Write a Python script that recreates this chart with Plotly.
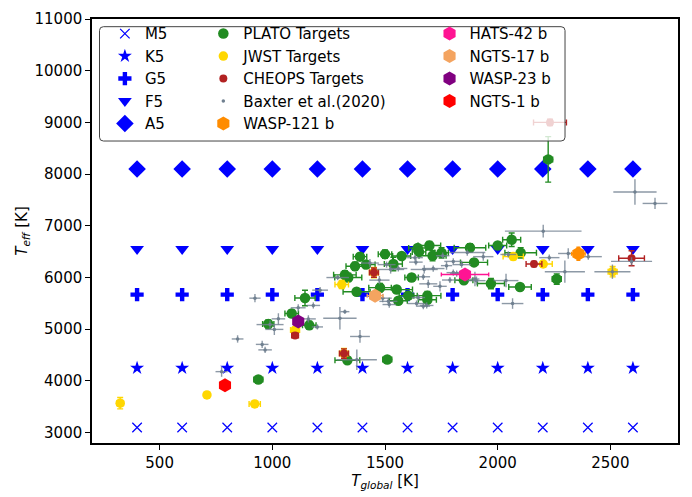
import plotly.graph_objects as go

# ---- stellar spectral-type reference grid ----
grid_tglobal = [400, 600, 800, 1000, 1200, 1400, 1600, 1800, 2000, 2200, 2400, 2600]
stype_names = ["M5", "K5", "G5", "F5", "A5"]
stype_teff = [3100, 4250, 5670, 6550, 8100]

# ---- PLATO targets ----
plato_tglobal = [938, 982, 1086, 1164, 1145, 1333, 1510, 1322, 1337, 1367,
                 1389, 1416, 1500, 1537, 1574, 1618, 1645, 1651, 1697, 1711,
                 1751, 1877, 1374, 1478, 1552, 1559, 1603, 1688, 1688, 1895,
                 1850, 1970, 2000, 2062, 2102, 2099, 2262, 2224]
plato_teff = [4027, 5100, 5305, 5077, 5605, 4400, 4416, 6052, 6002, 6219,
              6404, 6250, 6452, 6262, 6417, 6002, 6570, 6496, 6619, 6422,
              6478, 6575, 5725, 5804, 5767, 5552, 5650, 5650, 5570, 6293,
              5947, 5884, 6619, 6730, 6478, 5817, 5971, 8285]
plato_tglobal_err = [20, 25, 30, 30, 45, 55, 20, 50, 60, 40,
                     30, 40, 30, 40, 40, 30, 40, 30, 50, 60,
                     30, 70, 60, 50, 70, 40, 40, 60, 40, 60,
                     40, 60, 40, 40, 70, 50, 20, 20]
plato_teff_err = [60, 80, 70, 80, 150, 60, 50, 80, 80, 80,
                  60, 60, 80, 130, 60, 60, 60, 60, 80, 100,
                  100, 80, 60, 80, 60, 60, 60, 80, 60, 60,
                  60, 100, 60, 130, 100, 60, 100, 440]

# ---- JWST targets ----
jwst_tglobal = [325, 710, 922, 1101, 1308, 1318, 1451, 2069, 2202, 2510]
jwst_teff = [3570, 3730, 3555, 4985, 5865, 4530, 6095, 6405, 6262, 6113]
jwst_tglobal_err = [15, 10, 25, 20, 30, 20, 20, 45, 40, 20]
jwst_teff_err = [110, 50, 50, 50, 80, 100, 100, 60, 50, 100]

# ---- CHEOPS targets ----
cheops_tglobal = [1101, 1318, 1451, 2161, 2594, 2232]
cheops_teff = [4879, 4530, 6095, 6262, 6372, 9000]
cheops_tglobal_err = [15, 20, 20, 35, 57, 73]
cheops_teff_err = [40, 90, 90, 50, 145, 60]

# ---- Baxter et al. (2020) sample ----
baxter_tglobal = [775, 846, 923, 955, 968, 990, 1009, 1027, 1115, 1160,
                  1182, 1200, 1212, 1300, 1322, 1389, 1375, 1290, 1433, 1475,
                  1507, 1525, 1559, 1490, 1515, 1519, 1633, 1637, 1674, 1714,
                  1692, 1670, 1744, 1773, 1756, 1803, 1803, 1818, 1840, 1788,
                  1648, 1640, 1670, 1685, 1865, 1936, 1906, 1899, 2037, 2066,
                  2047, 2202, 2229, 2313, 2298, 2402, 2594, 2509, 2609, 2698]
baxter_teff = [4180, 4812, 5601, 4707, 4601, 5090, 4997, 5201, 5415, 5200,
               5460, 5045, 5756, 5212, 5340, 4860, 4410, 6000, 6280, 5950,
               6250, 6156, 6175, 5601, 5539, 5478, 6385, 6298, 6156, 6174,
               5878, 6015, 5830, 6230, 6422, 6312, 6095, 6076, 6250, 5952,
               5613, 5497, 5447, 5460, 6483, 6404, 5940, 5971, 5941, 5497,
               6446, 6897, 6385, 6465, 6113, 6404, 6312, 6113, 7655, 7433]
baxter_tglobal_err = [27, 26, 25, 28, 30, 60, 40, 30, 33, 33,
                      30, 25, 35, 74, 20, 44, 89, 50, 40, 45,
                      40, 60, 40, 40, 40, 30, 35, 30, 60, 50,
                      40, 30, 30, 25, 30, 40, 30, 30, 40, 35,
                      30, 40, 30, 30, 80, 45, 40, 20, 55, 48,
                      35, 170, 45, 45, 89, 60, 91, 80, 96, 55]
baxter_teff_err = [100, 71, 80, 70, 60, 80, 108, 108, 70, 70,
                   60, 50, 60, 216, 40, 123, 200, 50, 80, 80,
                   60, 80, 60, 80, 60, 60, 60, 60, 80, 60,
                   80, 60, 100, 80, 60, 60, 60, 60, 60, 60,
                   60, 60, 60, 60, 60, 80, 80, 139, 130, 102,
                   60, 123, 60, 100, 216, 60, 80, 139, 247, 108]

# ---- individual planets ----
planet_names = ["WASP-121 b", "HATS-42 b", "NGTS-17 b", "WASP-23 b", "NGTS-1 b"]
planet_tglobal = [2358, 1855, 1456, 1115, 790]
planet_teff = [6460, 6060, 5650, 5150, 3916]
planet_tglobal_err = [30, 105, 35, 20, 20]
planet_teff_err = [125, 50, 60, 50, 50]

# ---- styling ----
BLUE = "#0000ff"
FONT = "DejaVu Sans"
stype_style = {
    "M5": dict(symbol="x-thin", size=9.5, line=dict(width=1.2, color=BLUE)),
    "K5": dict(symbol="star", size=10.5, line=dict(width=0)),
    "G5": dict(symbol="cross", size=11, line=dict(width=0)),
    "F5": dict(symbol="triangle-down", size=12, line=dict(width=0)),
    "A5": dict(symbol="diamond", size=13.5, line=dict(width=0)),
}
planet_colors = ["#ff8c00", "#ff1493", "#f4a460", "#800080", "#ff0000"]
planet_legend = ["legend2", "legend3", "legend3", "legend3", "legend3"]

fig = go.Figure()

for name, teff in zip(stype_names, stype_teff):
    fig.add_trace(go.Scatter(
        x=grid_tglobal, y=[teff] * len(grid_tglobal), mode="markers", name=name,
        marker=dict(color=BLUE, **stype_style[name]), legend="legend"))


def err_series(name, x, y, ex, ey, color, size, legend, cap=3, bar_color=None,
               symbol="circle"):
    bc = bar_color or color
    return go.Scatter(
        x=x, y=y, mode="markers", name=name, legend=legend,
        marker=dict(color=color, size=size, symbol=symbol, line=dict(width=0)),
        error_x=dict(type="data", array=ex, visible=True, color=bc,
                     thickness=1.4, width=cap),
        error_y=dict(type="data", array=ey, visible=True, color=bc,
                     thickness=1.4, width=cap))


fig.add_trace(err_series("PLATO Targets", plato_tglobal, plato_teff,
                         plato_tglobal_err, plato_teff_err, "#228b22", 10.5, "legend2"))
fig.add_trace(err_series("JWST Targets", jwst_tglobal, jwst_teff,
                         jwst_tglobal_err, jwst_teff_err, "#ffd700", 9.5, "legend2"))
fig.add_trace(err_series("CHEOPS Targets", cheops_tglobal, cheops_teff,
                         cheops_tglobal_err, cheops_teff_err, "#b22222", 8, "legend2"))
fig.add_trace(err_series("Baxter et al.(2020)", baxter_tglobal, baxter_teff,
                         baxter_tglobal_err, baxter_teff_err, "#708090", 3.5,
                         "legend2", cap=0, bar_color="rgba(112,128,144,0.8)"))

for i, pname in enumerate(planet_names):
    fig.add_trace(err_series(pname, [planet_tglobal[i]], [planet_teff[i]],
                             [planet_tglobal_err[i]], [planet_teff_err[i]],
                             planet_colors[i], 14, planet_legend[i], cap=2,
                             symbol="hexagon"))


# rounded legend frame spanning the three legend columns
def rounded_rect(x0, y0, x1, y1, rx, ry):
    return (f"M {x0 + rx},{y1} L {x1 - rx},{y1} Q {x1},{y1} {x1},{y1 - ry} "
            f"L {x1},{y0 + ry} Q {x1},{y0} {x1 - rx},{y0} "
            f"L {x0 + rx},{y0} Q {x0},{y0} {x0},{y0 + ry} "
            f"L {x0},{y1 - ry} Q {x0},{y1} {x0 + rx},{y1} Z")


fig.add_shape(type="path", xref="paper", yref="paper", layer="above",
              path=rounded_rect(0.0128, 0.7122, 0.8072, 0.9819, 0.0068, 0.009),
              fillcolor="rgba(255,255,255,0.8)",
              line=dict(color="#444444", width=1))

legend_common = dict(yanchor="top", y=1.004, xanchor="left",
                     bgcolor="rgba(0,0,0,0)", borderwidth=0,
                     font=dict(family=FONT, size=15, color="black"),
                     itemclick=False)

fig.update_layout(
    width=692, height=497,
    margin=dict(l=92, r=14, t=10, b=44),
    plot_bgcolor="white", paper_bgcolor="white",
    font=dict(family=FONT, size=15, color="black"),
    legend=dict(x=0.022, **legend_common),
    legend2=dict(x=0.19, **legend_common),
    legend3=dict(x=0.576, **legend_common),
)

axis_common = dict(ticks="outside", ticklen=5, tickwidth=1, tickcolor="black",
                   showline=True, linecolor="black", linewidth=1.5, mirror=True,
                   showgrid=False, zeroline=False, tickformat="d",
                   tickfont=dict(family=FONT, size=15, color="black"))

fig.update_xaxes(range=[200, 2800], tickvals=[500, 1000, 1500, 2000, 2500],
                 title=dict(text="<i>T<sub>global</sub></i> [K]", standoff=5,
                            font=dict(family=FONT, size=15)),
                 **axis_common)
fig.update_yaxes(range=[2800, 11000], tickvals=list(range(3000, 11001, 1000)),
                 title=dict(text="<i>T<sub>eff</sub></i> [K]", standoff=3,
                            font=dict(family=FONT, size=15)),
                 **axis_common)

fig.write_html("out.html")
